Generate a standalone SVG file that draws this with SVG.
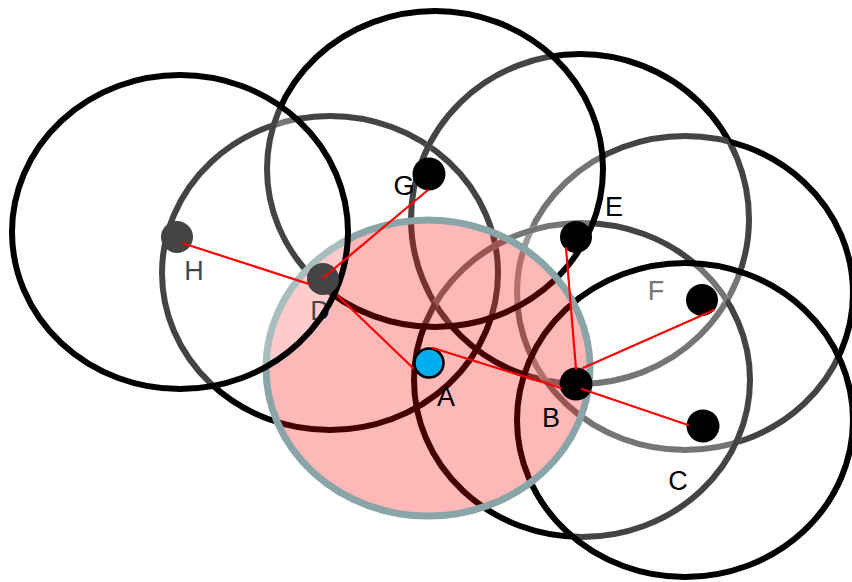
<svg xmlns="http://www.w3.org/2000/svg" width="852" height="582" viewBox="0 0 852 582">
<style>
.ring{fill:none;stroke:#000;stroke-width:6}
.ov{fill:none;stroke:#fff;stroke-opacity:0.267;stroke-width:7}
.lbl{font-family:"Liberation Sans",Arial,sans-serif;font-size:27px;text-anchor:middle}
.edge{stroke:#f00;stroke-width:2.2;fill:none;stroke-linecap:round}
</style>
<defs>
<ellipse id="eD" cx="330" cy="273" rx="168" ry="157"/>
<ellipse id="eE" cx="580" cy="219" rx="169" ry="165"/>
<ellipse id="eF" cx="685" cy="293" rx="168" ry="157"/>
<ellipse id="eB" cx="582" cy="380" rx="168" ry="157"/>
<ellipse id="eC" cx="685" cy="420" rx="168" ry="157"/>
<ellipse id="eG" cx="435" cy="169" rx="168" ry="158"/>
<clipPath id="cE"><use href="#eE"/></clipPath>
<clipPath id="cF"><use href="#eF"/></clipPath>
<clipPath id="cB"><use href="#eB"/></clipPath>
<clipPath id="cC"><use href="#eC"/></clipPath>
<clipPath id="cG"><use href="#eG"/></clipPath>
</defs>
<rect width="852" height="582" fill="#fff"/>
<g id="ranges">
<g id="range-D"><use href="#eD" class="ring"/><use href="#eD" class="ov" clip-path="url(#cG)"/></g>
<g id="range-E"><use href="#eE" class="ring"/><use href="#eE" class="ov" clip-path="url(#cG)"/><use href="#eE" class="ov" clip-path="url(#cF)"/><use href="#eE" class="ov" clip-path="url(#cC)"/></g>
<g id="range-F"><use href="#eF" class="ring"/><use href="#eF" class="ov" clip-path="url(#cE)"/><use href="#eF" class="ov" clip-path="url(#cB)"/><use href="#eF" class="ov" clip-path="url(#cC)"/><use href="#eF" class="ov" clip-path="url(#cG)"/></g>
<g id="range-B"><use href="#eB" class="ring"/><use href="#eB" class="ov" clip-path="url(#cE)"/><use href="#eB" class="ov" clip-path="url(#cG)"/><use href="#eB" class="ov" clip-path="url(#cC)"/></g>
<g id="range-C"><use href="#eC" class="ring"/></g>
<g id="range-G"><use href="#eG" class="ring"/></g>
<ellipse id="range-A" cx="428" cy="368" rx="162" ry="148" fill="#f00" fill-opacity="0.28" stroke="#8aa5a8" stroke-width="7"/>
</g>
<g id="labels-under">
<text class="lbl" x="320" y="320" fill="#000">D</text>
<text class="lbl" x="194" y="280" fill="#000">H</text>
</g>
<g id="range-H"><ellipse cx="180" cy="232" rx="168" ry="157" fill="#fff" fill-opacity="0.267" stroke="#000" stroke-width="6"/></g>
<g id="node-H"><circle cx="177" cy="237" r="16" fill="#444"/></g>
<g id="node-D"><circle cx="323" cy="279" r="16" fill="#444"/></g>
<g id="node-G"><text class="lbl" x="404" y="195" fill="#000">G</text><circle cx="429" cy="174" r="16.5" fill="#000"/></g>
<g id="node-E"><text class="lbl" x="614" y="216" fill="#000">E</text><circle cx="576" cy="237" r="16" fill="#000"/></g>
<g id="node-F"><text class="lbl" x="656" y="300" fill="#777">F</text><circle cx="702" cy="300" r="16" fill="#000"/></g>
<g id="node-B"><text class="lbl" x="551" y="427" fill="#000">B</text><circle cx="576" cy="384" r="16.5" fill="#000"/></g>
<g id="node-C"><text class="lbl" x="678" y="490" fill="#000">C</text><circle cx="703" cy="426" r="16.5" fill="#000"/></g>
<g id="node-A"><text class="lbl" x="446" y="406" fill="#000">A</text><circle cx="429" cy="363" r="14.5" fill="#00aeef" stroke="#000" stroke-width="2.5"/></g>
<g id="connectors">
<line class="edge" x1="182" y1="243" x2="309" y2="284"/>
<line class="edge" x1="323" y1="278" x2="428" y2="190"/>
<line class="edge" x1="338" y1="296" x2="413" y2="368"/>
<line class="edge" x1="433" y1="348" x2="561" y2="388"/>
<line class="edge" x1="582" y1="389" x2="688" y2="425"/>
<line class="edge" x1="566" y1="248" x2="576" y2="369"/>
<line class="edge" x1="583" y1="368" x2="714" y2="310"/>
</g>
</svg>
